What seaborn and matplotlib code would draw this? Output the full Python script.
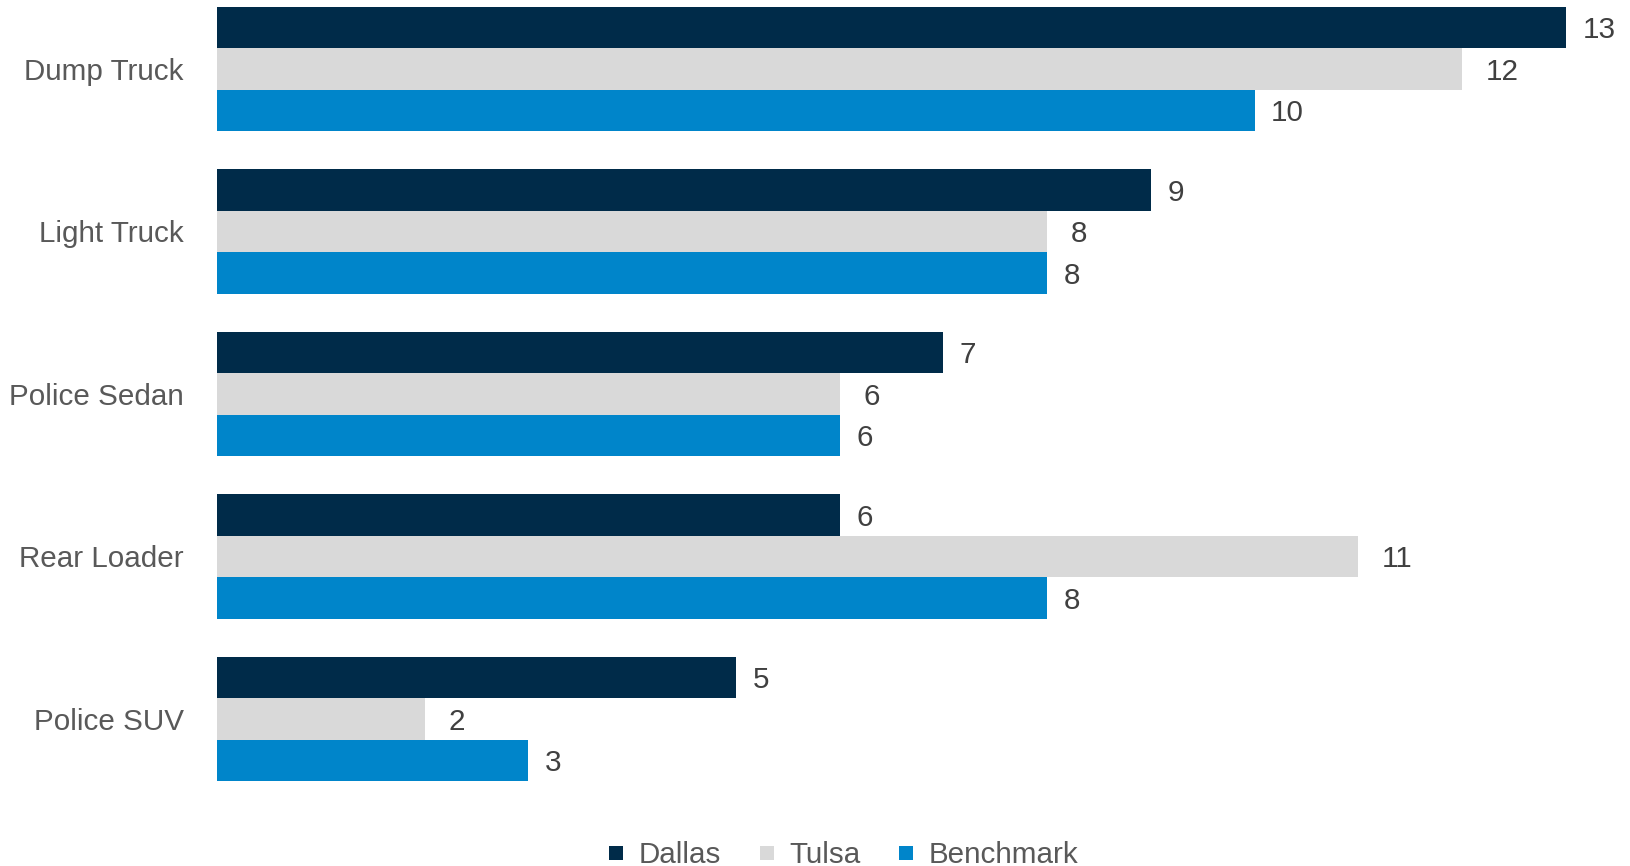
import matplotlib
matplotlib.use("Agg")
import matplotlib.pyplot as plt
from matplotlib.lines import Line2D
import seaborn as sns
import pandas as pd

categories = ["Dump Truck", "Light Truck", "Police Sedan", "Rear Loader", "Police SUV"]
dallas = [13, 9, 7, 6, 5]
tulsa = [12, 8, 6, 11, 2]
benchmark = [10, 8, 6, 8, 3]
series = ["Dallas", "Tulsa", "Benchmark"]
colors = ["#002B49", "#D9D9D9", "#0085CA"]

rows = []
for name, vals in zip(series, [dallas, tulsa, benchmark]):
    for cat, v in zip(categories, vals):
        rows.append({"Vehicle": cat, "City": name, "Value": v})
df = pd.DataFrame(rows)

sns.set_style("white")
plt.rcParams["font.family"] = ["Liberation Sans", "DejaVu Sans"]

W, H = 1630, 866
fig = plt.figure(figsize=(W / 100, H / 100), dpi=100)
ax_top, ax_bot = 0, 800
ax = fig.add_axes([217 / W, 1 - ax_bot / H, (W - 217) / W, (ax_bot - ax_top) / H])

sns.barplot(data=df, y="Vehicle", x="Value", hue="City", order=categories,
            hue_order=series, palette=colors, saturation=1, orient="h",
            width=0.765, linewidth=0, ax=ax, legend=False)

unit = 103.75
ax.set_xlim(0, (W - 217) / unit)
center0, step = 68.9, 162.5
ax.set_ylim((ax_bot - center0) / step, (ax_top - center0) / step)

fs = 21.3
pads = [12, 17, 12]
for cont, pad in zip(ax.containers, pads):
    txts = ax.bar_label(cont, labels=[f"{v:g}" for v in cont.datavalues],
                        padding=pad, fontsize=fs, color="#404040")
    for t in txts:
        t.set_va("center_baseline")

for s in ax.spines.values():
    s.set_visible(False)
ax.set_xlabel("")
ax.set_ylabel("")
ax.set_xticks([])
ax.tick_params(axis="y", length=0, pad=24, labelsize=fs, labelcolor="#595959")

handles = [Line2D([0], [0], marker="s", linestyle="", markersize=10,
                  markerfacecolor=c, markeredgewidth=0) for c in colors]
fig.legend(handles, series, loc="center", bbox_to_anchor=(0.517, 1 - 855 / H),
           ncol=3, frameon=False, fontsize=fs, labelcolor="#595959",
           handlelength=0.6, handletextpad=0.45, columnspacing=1.25,
           borderaxespad=0, borderpad=0)

fig.savefig("out.png", dpi=100)
